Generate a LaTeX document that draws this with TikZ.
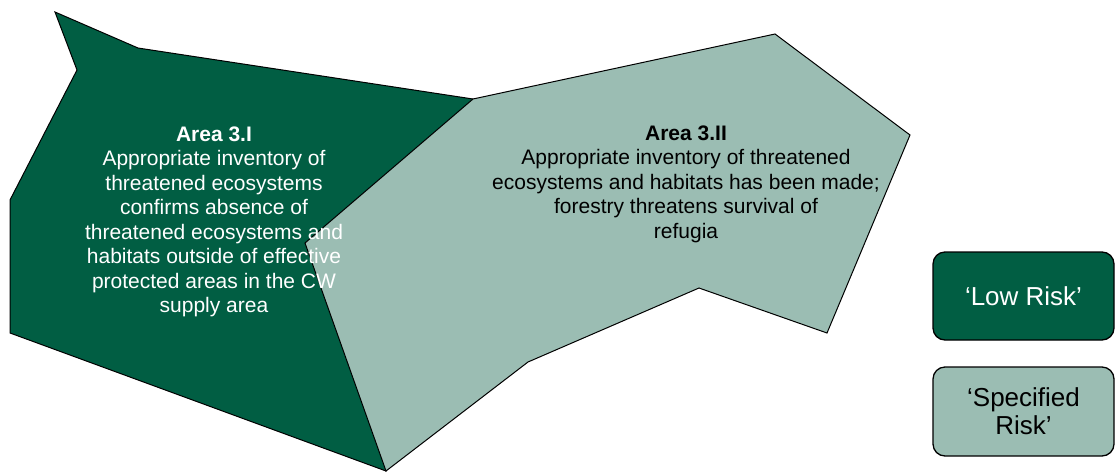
\documentclass[tikz,border=0pt]{standalone}
\usepackage{fontspec}
\setmainfont{Liberation Sans}
\definecolor{darkgreen}{RGB}{1,94,67}
\definecolor{lightgreen}{RGB}{155,189,179}
\tikzset{
  area/.style={draw=black, line width=1pt, line join=miter},
  areatext/.style={align=center, inner sep=0pt, anchor=base, font=\fontsize{21}{24.5}\selectfont},
  legendbox/.style={draw=black, line width=1.3pt, rounded corners=12pt, minimum width=181pt, align=center, inner sep=0pt, font=\fontsize{26}{28}\selectfont}
}
\begin{document}
\begin{tikzpicture}[x=1pt, y=-1pt]
\useasboundingbox (0,0) rectangle (1116,472);
% dark area 3.I
\filldraw[area, fill=darkgreen] (55,12) -- (138,48) -- (473,99) -- (386,471) -- (10,333) -- (10,200) -- (77,70) -- cycle;
% light area 3.II
\filldraw[area, fill=lightgreen] (473,99) -- (775,34) -- (910,135) -- (827,333) -- (699,288) -- (528,362) -- (386,471) -- (305,243) -- cycle;
% texts (anchored at the baseline of the last line)
\node[areatext, text=white] (t1) at (214,312.5) {\textbf{Area 3.I}\\Appropriate inventory of\\threatened ecosystems\\confirms absence of\\threatened ecosystems and\\habitats outside of effective\\protected areas in the CW\\supply area};
\node[areatext, text=black] (t2) at (686,238) {\textbf{Area 3.II}\\Appropriate inventory of threatened\\ecosystems and habitats has been made;\\forestry threatens survival of\\refugia};
% legend
\node[legendbox, fill=darkgreen, text=white, minimum height=88pt] (low) at (1023.5,296) {‘Low Risk’};
\node[legendbox, fill=lightgreen, text=black, minimum height=89pt] (spec) at (1023.5,411.5) {‘Specified\\Risk’};
\end{tikzpicture}
\end{document}
